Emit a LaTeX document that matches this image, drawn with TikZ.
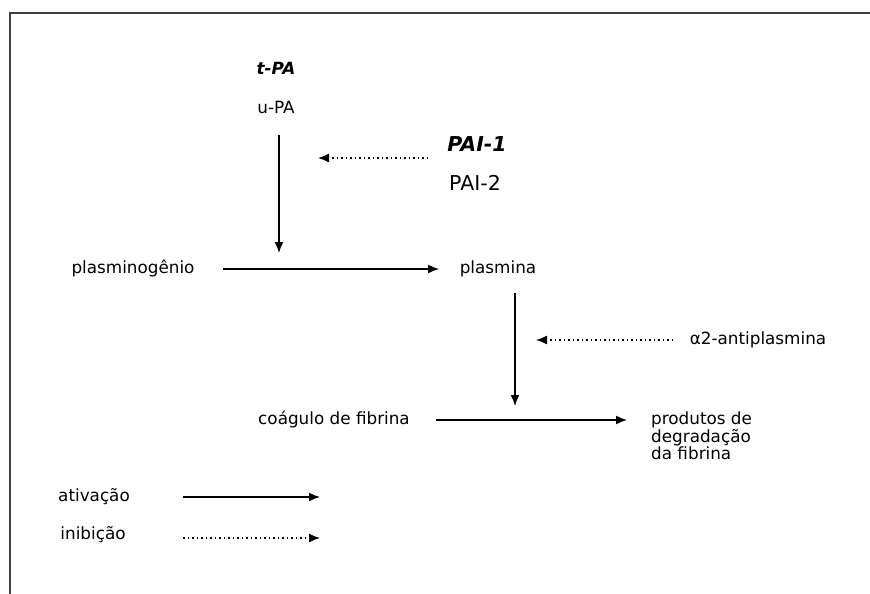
\documentclass[tikz,border=0pt]{standalone}
\usepackage{fontspec}
\setmainfont{DejaVu Sans}
\usepackage{tikz}
\usetikzlibrary{arrows.meta,positioning}

\begin{document}
\begin{tikzpicture}[x=1pt, y=-1pt]
			\tikzstyle{Txt} 	= [inner sep=0pt, font=\fontsize{16.8}{17.5}\selectfont]
			\tikzstyle{Big}		= [inner sep=0pt, font=\fontsize{20.5}{22}\selectfont]
			\tikzstyle{Act}		= [line width=1.5pt, -{Latex[length=11pt, width=9pt]}]
			\tikzstyle{Inh}		= [line width=1.3pt, dash pattern=on 1.5pt off 3pt, -{Latex[length=11pt, width=9pt]}]
			
			\useasboundingbox (0,0) rectangle (870,594);
			\draw [line width=1.8pt, black!75] (10,594) -- (10,13) -- (870,13);
			
			\node (tpa) at (276, 68) [Txt] {\textbf{\textit{t-PA}}};
			\node (upa) at (276, 107) [Txt] {u-PA};
			\node (pai1) at (477, 144) [Big] {\textbf{\textit{PAI-1}}};
			\node (pai2) at (475, 183) [Big] {PAI-2};
			\node (plg) at (133, 269) [Txt] {plasminogênio};
			\node (plm) at (498, 269) [Txt] {plasmina};
			\node (anti) at (758, 340) [Txt] {α2-antiplasmina};
			\node (coag) at (334, 420) [Txt] {coágulo de fibrina};
			\node (prod) at (651, 412) [Txt, anchor=north west, align=left] {produtos de\\degradação\\da fibrina};
			\node (ativ) at (94, 497) [Txt] {ativação};
			\node (inib) at (93, 535) [Txt] {inibição};
			
			\coordinate (u1) at (279, 135);
			\coordinate (u2) at (279, 253);
			\coordinate (p1) at (428, 158);
			\coordinate (p2) at (318, 158);
			\coordinate (g1) at (223, 269);
			\coordinate (g2) at (439, 269);
			\coordinate (m1) at (515, 293);
			\coordinate (m2) at (515, 406);
			\coordinate (a1) at (673, 340);
			\coordinate (a2) at (536, 340);
			\coordinate (c1) at (436, 420);
			\coordinate (c2) at (627, 420);
			\coordinate (l1) at (183, 497);
			\coordinate (l2) at (320, 497);
			\coordinate (l3) at (183, 538);
			\coordinate (l4) at (320, 538);
			
			\draw (u1) to (u2) [Act];
			\draw (p1) to (p2) [Inh];
			\draw (g1) to (g2) [Act];
			\draw (m1) to (m2) [Act];
			\draw (a1) to (a2) [Inh];
			\draw (c1) to (c2) [Act];
			\draw (l1) to (l2) [Act];
			\draw (l3) to (l4) [Inh];
		\end{tikzpicture}
\end{document}
